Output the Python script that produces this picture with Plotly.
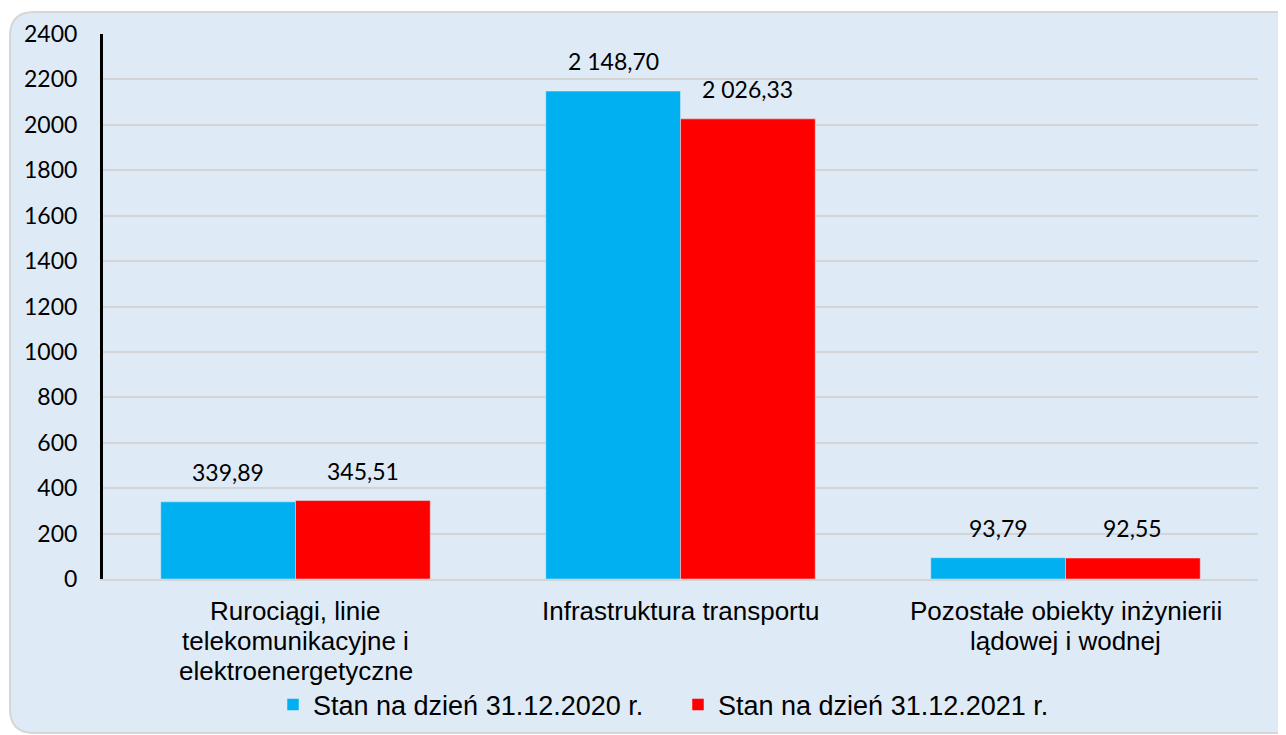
import plotly.graph_objects as go

# Daten
kategorie = [
    "Rurociągi, linie<br>telekomunikacyjne i<br>elektroenergetyczne",
    "Infrastruktura transportu",
    "Pozostałe obiekty inżynierii<br>lądowej i wodnej",
]
wert_2020 = [339.89, 2148.70, 93.79]
wert_2021 = [345.51, 2026.33, 92.55]
name_2020 = "Stan na dzień 31.12.2020 r."
name_2021 = "Stan na dzień 31.12.2021 r."
y_ticks = list(range(0, 2401, 200))


def pl_format(v):
    # polnisches Zahlenformat: Leerzeichen als Tausender, Komma als Dezimal
    s = f"{v:,.2f}"
    return s.replace(",", " ").replace(".", ",")


# Layout-Maße in Pixel (Seite hat 8px Rand im Browser)
W, H = 1286, 735
L, R, T, B = 95, 36, 26, 164
plot_w = W - L - R
plot_h = H - T - B
bargap = 0.3


def px_x(px):
    return (px - L) / plot_w


def px_y(py):
    return (H - B - py) / plot_h


def rounded_box(x0, y0, x1, y1, r):
    # abgerundetes Rechteck in paper-Koordinaten
    return (
        f"M {px_x(x0 + r)},{px_y(y0)} "
        f"L {px_x(x1 - r)},{px_y(y0)} "
        f"Q {px_x(x1)},{px_y(y0)} {px_x(x1)},{px_y(y0 + r)} "
        f"L {px_x(x1)},{px_y(y1 - r)} "
        f"Q {px_x(x1)},{px_y(y1)} {px_x(x1 - r)},{px_y(y1)} "
        f"L {px_x(x0 + r)},{px_y(y1)} "
        f"Q {px_x(x0)},{px_y(y1)} {px_x(x0)},{px_y(y1 - r)} "
        f"L {px_x(x0)},{px_y(y0 + r)} "
        f"Q {px_x(x0)},{px_y(y0)} {px_x(x0 + r)},{px_y(y0)} Z"
    )


fig = go.Figure()

fig.add_trace(go.Bar(
    x=list(range(len(kategorie))),
    y=wert_2020,
    name=name_2020,
    marker=dict(color="#00B0F0"),
))

fig.add_trace(go.Bar(
    x=list(range(len(kategorie))),
    y=wert_2021,
    name=name_2021,
    marker=dict(color="#FF0000"),
))

# Datenbeschriftungen über den Balken
halb = (1 - bargap) / 4
for i in range(len(kategorie)):
    for dx, werte in [(-halb, wert_2020), (halb, wert_2021)]:
        fig.add_annotation(
            x=i + dx,
            y=werte[i],
            text=pl_format(werte[i]),
            showarrow=False,
            yanchor="bottom",
            yshift=14,
            font=dict(family="Lato", size=23, color="black"),
        )

# Kategorienbeschriftungen (engerer Zeilenabstand als Plotly-Standard)
for i, kat in enumerate(kategorie):
    for j, zeile in enumerate(kat.split("<br>")):
        fig.add_annotation(
            x=i,
            y=0,
            text=zeile,
            showarrow=False,
            yanchor="middle",
            yshift=-(32 + j * 30),
            font=dict(family="Liberation Sans, Arial", size=26, color="black"),
        )

fig.add_shape(
    type="path",
    xref="paper",
    yref="paper",
    path=rounded_box(2, 4, 1300, 725, 24),
    fillcolor="#DEEAF6",
    line=dict(color="#D6D6D6", width=2),
    layer="below",
)

fig.update_layout(
    width=W,
    height=H,
    margin=dict(l=L, r=R, t=T, b=B),
    paper_bgcolor="white",
    plot_bgcolor="rgba(0,0,0,0)",
    barmode="group",
    bargap=bargap,
    bargroupgap=0,
    font=dict(family="Liberation Sans, Arial", size=21, color="black"),
    showlegend=True,
    legend=dict(
        orientation="h",
        x=px_x(265),
        xanchor="left",
        y=px_y(697),
        yanchor="middle",
        font=dict(family="Liberation Sans, Arial", size=27),
        bgcolor="rgba(0,0,0,0)",
        itemwidth=30,
        entrywidth=360,
        entrywidthmode="pixels",
    ),
)

fig.update_yaxes(
    range=[0, 2400],
    tickvals=y_ticks,
    tickfont=dict(family="Lato", size=23),
    showgrid=True,
    gridcolor="#D4D4D4",
    gridwidth=2,
    showline=True,
    linecolor="black",
    linewidth=3,
    zeroline=False,
    ticks="",
    ticklabelstandoff=18,
)

fig.update_xaxes(
    range=[-0.5, len(kategorie) - 0.5],
    showline=True,
    linecolor="#D4D4D4",
    linewidth=2,
    ticks="",
    showticklabels=False,
    showgrid=False,
    zeroline=False,
)

fig.write_html("out.html")
